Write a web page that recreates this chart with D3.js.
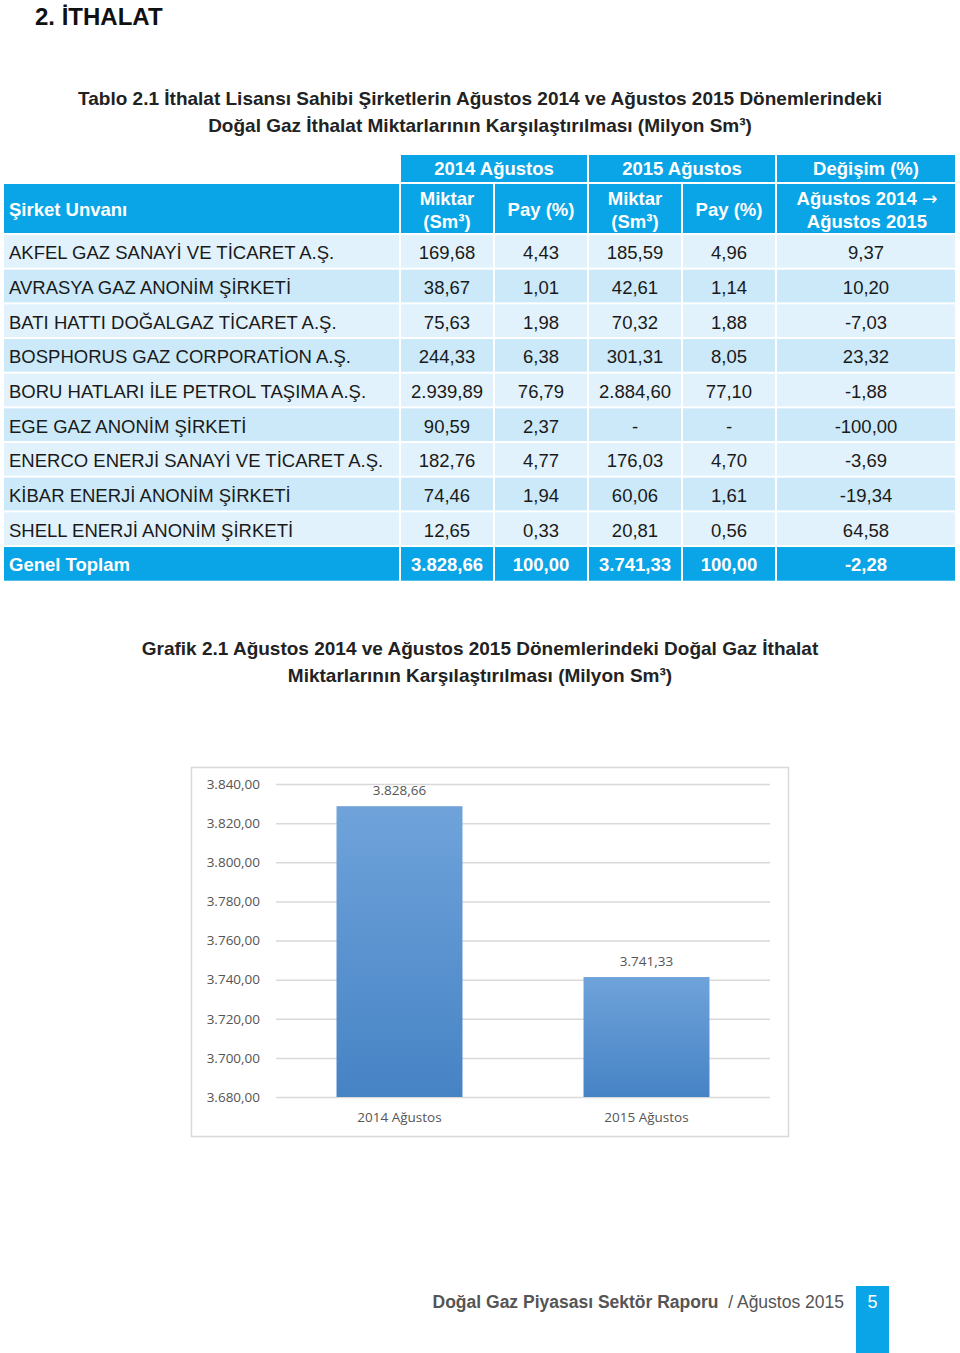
<!DOCTYPE html>
<html>
<head>
<meta charset="utf-8">
<script src="https://cdn.jsdelivr.net/npm/d3@7"></script>
<style>
  body { margin: 0; background: #fff; }
  svg text { font-family: "Liberation Sans", Arial, sans-serif; }
</style>
</head>
<body>
<svg width="960" height="1353"></svg>
<script>
// Table data
const companies = [
  "AKFEL GAZ SANAYİ VE TİCARET A.Ş.",
  "AVRASYA GAZ ANONİM ŞİRKETİ",
  "BATI HATTI DOĞALGAZ TİCARET A.Ş.",
  "BOSPHORUS GAZ CORPORATİON A.Ş.",
  "BORU HATLARI İLE PETROL TAŞIMA A.Ş.",
  "EGE GAZ ANONİM ŞİRKETİ",
  "ENERCO ENERJİ SANAYİ VE TİCARET A.Ş.",
  "KİBAR ENERJİ ANONİM ŞİRKETİ",
  "SHELL ENERJİ ANONİM ŞİRKETİ"
];
const miktar2014 = [169.68, 38.67, 75.63, 244.33, 2939.89, 90.59, 182.76, 74.46, 12.65];
const pay2014 = [4.43, 1.01, 1.98, 6.38, 76.79, 2.37, 4.77, 1.94, 0.33];
const miktar2015 = [185.59, 42.61, 70.32, 301.31, 2884.60, null, 176.03, 60.06, 20.81];
const pay2015 = [4.96, 1.14, 1.88, 8.05, 77.10, null, 4.70, 1.61, 0.56];
const degisim = [9.37, 10.20, -7.03, 23.32, -1.88, -100.00, -3.69, -19.34, 64.58];
const toplam = ["Genel Toplam", 3828.66, 100.00, 3741.33, 100.00, -2.28];

// Chart data
const categories = ["2014 Ağustos", "2015 Ağustos"];
const totals = [3828.66, 3741.33];
const yTicks = [3680, 3700, 3720, 3740, 3760, 3780, 3800, 3820, 3840];

const tr = d3.formatLocale({decimal: ",", thousands: ".", grouping: [3], currency: ["", ""], minus: "-"});
const fmt = v => v == null ? "-" : tr.format(",.2f")(v);

const svg = d3.select("svg");
const blue = "#0aa5e6";

// Page title
svg.append("text").attr("x", 35).attr("y", 25)
  .attr("font-size", 24).attr("font-weight", "bold").attr("fill", "#111")
  .text("2. İTHALAT");

const tblTitle = ["Tablo 2.1 İthalat Lisansı Sahibi Şirketlerin Ağustos 2014 ve Ağustos 2015 Dönemlerindeki",
  "Doğal Gaz İthalat Miktarlarının Karşılaştırılması (Milyon Sm³)"];
svg.selectAll(".ttitle").data(tblTitle).join("text")
  .attr("x", 480).attr("y", (d, i) => 105 + i * 27)
  .attr("text-anchor", "middle").attr("font-size", 19).attr("font-weight", "bold").attr("fill", "#222")
  .text(d => d);

// Table
const colX = [4, 401, 495, 589, 683, 777, 957];
const rowH = 34.67;
const top0 = 235;
const fs = 18.5;
const g = svg.append("g");

// header row 1
const h1 = [["2014 Ağustos", 1, 3], ["2015 Ağustos", 3, 5], ["Değişim (%)", 5, 6]];
h1.forEach(([t, a, b]) => {
  g.append("rect").attr("x", colX[a]).attr("y", 155).attr("width", colX[b] - colX[a] - 2).attr("height", 27).attr("fill", blue);
  g.append("text").attr("x", (colX[a] + colX[b] - 2) / 2).attr("y", 175)
    .attr("text-anchor", "middle").attr("font-size", fs).attr("font-weight", "bold").attr("fill", "#fff").text(t);
});
// header row 2
for (let c = 0; c < 6; c++) {
  g.append("rect").attr("x", colX[c]).attr("y", 184).attr("width", colX[c + 1] - colX[c] - 2).attr("height", 49).attr("fill", blue);
}
const hd = (x, y, t, anchor = "middle") => g.append("text").attr("x", x).attr("y", y)
  .attr("text-anchor", anchor).attr("font-size", fs).attr("font-weight", "bold").attr("fill", "#fff").text(t);
hd(9, 216, "Şirket Unvanı", "start");
[1, 3].forEach(c => {
  const cx = (colX[c] + colX[c + 1] - 2) / 2;
  hd(cx, 205, "Miktar");
  hd(cx, 228, "(Sm³)");
});
[2, 4].forEach(c => hd((colX[c] + colX[c + 1] - 2) / 2, 216, "Pay (%)"));
const arrowLine = hd((colX[5] + colX[6]) / 2, 205, "Ağustos 2014 ");
arrowLine.append("tspan").style("font-family", "'DejaVu Sans', sans-serif").attr("font-weight", "normal").text("→");
hd((colX[5] + colX[6]) / 2, 228, "Ağustos 2015");

// data rows
const rows = companies.map((c, i) => [c, miktar2014[i], pay2014[i], miktar2015[i], pay2015[i], degisim[i]]);
rows.forEach((r, i) => {
  const y = top0 + i * rowH;
  for (let c = 0; c < 6; c++) {
    g.append("rect").attr("x", colX[c]).attr("y", y).attr("width", colX[c + 1] - colX[c] - 2).attr("height", rowH - 2)
      .attr("fill", i % 2 === 0 ? "#e1f2fc" : "#cbe9f9");
    g.append("text")
      .attr("x", c === 0 ? 9 : (colX[c] + colX[c + 1] - 2) / 2)
      .attr("y", y + rowH / 2 + 7)
      .attr("text-anchor", c === 0 ? "start" : "middle")
      .attr("font-size", fs).attr("fill", "#1a1a1a")
      .text(c === 0 ? r[c] : fmt(r[c]));
  }
});
// total row
const ty = top0 + rows.length * rowH;
for (let c = 0; c < 6; c++) {
  g.append("rect").attr("x", colX[c]).attr("y", ty).attr("width", colX[c + 1] - colX[c] - 2).attr("height", rowH - 1).attr("fill", blue);
  g.append("text")
    .attr("x", c === 0 ? 9 : (colX[c] + colX[c + 1] - 2) / 2)
    .attr("y", ty + rowH / 2 + 7)
    .attr("text-anchor", c === 0 ? "start" : "middle")
    .attr("font-size", fs).attr("font-weight", "bold").attr("fill", "#fff")
    .text(c === 0 ? toplam[c] : fmt(toplam[c]));
}

// Chart title
const chTitle = ["Grafik 2.1 Ağustos 2014 ve Ağustos 2015 Dönemlerindeki Doğal Gaz İthalat",
  "Miktarlarının Karşılaştırılması (Milyon Sm³)"];
svg.selectAll(".ctitle").data(chTitle).join("text")
  .attr("x", 480).attr("y", (d, i) => 655 + i * 27)
  .attr("text-anchor", "middle").attr("font-size", 19).attr("font-weight", "bold").attr("fill", "#222")
  .text(d => d);

// Chart frame
svg.append("rect").attr("x", 191.5).attr("y", 767.5).attr("width", 597).attr("height", 369)
  .attr("fill", "#fff").attr("stroke", "#d9d9d9").attr("stroke-width", 1.5);

const x = d3.scaleBand().domain(categories).range([276, 770]).paddingInner(0.49).paddingOuter(0.245);
const y = d3.scaleLinear().domain([3680, 3840]).range([1097, 784]);

const defs = svg.append("defs");
const grad = defs.append("linearGradient").attr("id", "barGrad").attr("x1", 0).attr("y1", 0).attr("x2", 0).attr("y2", 1);
grad.append("stop").attr("offset", "0%").attr("stop-color", "#6fa3da");
grad.append("stop").attr("offset", "100%").attr("stop-color", "#4683c5");

const yAxis = svg.append("g").attr("transform", "translate(276,0)")
  .call(d3.axisLeft(y).tickValues(yTicks).tickSize(-494).tickFormat(d => fmt(d)).tickPadding(16));
yAxis.select(".domain").remove();
yAxis.selectAll(".tick line").attr("stroke", "#d9d9d9").attr("stroke-width", 1.5);
yAxis.selectAll(".tick text").attr("font-size", 13.5).attr("fill", "#555")
  .style("font-family", "'Open Sans', sans-serif");

svg.selectAll(".bar").data(totals).join("rect")
  .attr("x", (d, i) => x(categories[i])).attr("width", x.bandwidth())
  .attr("y", d => y(d)).attr("height", d => y(3680) - y(d))
  .attr("fill", "url(#barGrad)");

svg.selectAll(".lbl").data(totals).join("text")
  .attr("x", (d, i) => x(categories[i]) + x.bandwidth() / 2).attr("y", d => y(d) - 11)
  .attr("text-anchor", "middle").attr("font-size", 13.5).attr("fill", "#555")
  .style("font-family", "'Open Sans', sans-serif")
  .text(d => fmt(d));

const xAxis = svg.append("g").attr("transform", "translate(0,1097)")
  .call(d3.axisBottom(x).tickSize(0).tickPadding(15));
xAxis.select(".domain").remove();
xAxis.selectAll(".tick text").attr("font-size", 13.5).attr("fill", "#555")
  .style("font-family", "'Open Sans', sans-serif");

// Footer
svg.append("rect").attr("x", 856).attr("y", 1286).attr("width", 33).attr("height", 67).attr("fill", blue);
svg.append("text").attr("x", 872.5).attr("y", 1308).attr("text-anchor", "middle")
  .attr("font-size", 18).attr("fill", "#fff").text("5");
const foot = svg.append("text").attr("x", 844).attr("y", 1308).attr("text-anchor", "end")
  .attr("font-size", 17.5).attr("fill", "#555");
foot.append("tspan").attr("font-weight", "bold").text("Doğal Gaz Piyasası Sektör Raporu");
foot.append("tspan").attr("xml:space", "preserve").text("  / Ağustos 2015");
</script>
</body>
</html>
